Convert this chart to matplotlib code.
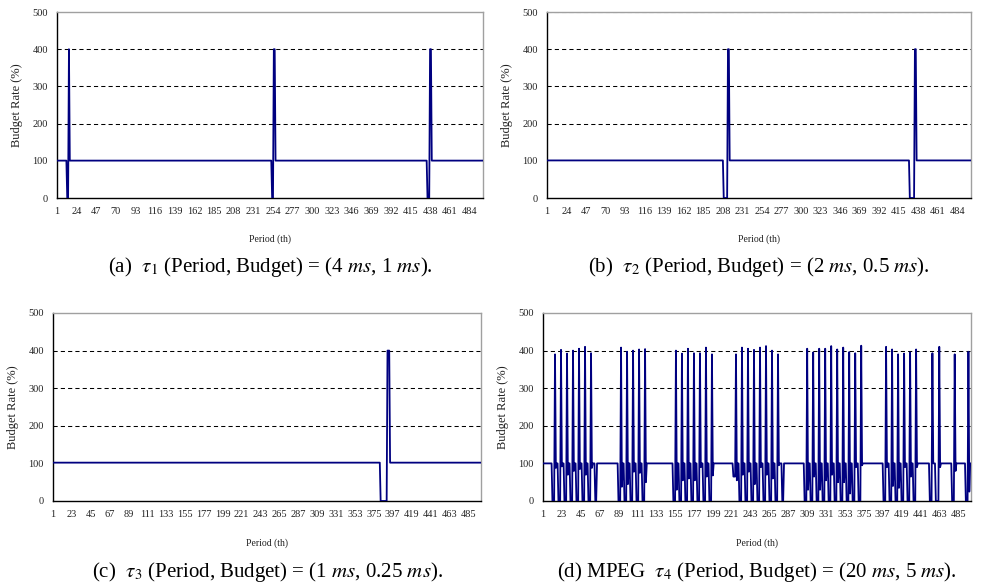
import numpy as np
import matplotlib
matplotlib.use('Agg')
import matplotlib.pyplot as plt

plt.rcParams['font.family'] = ['Liberation Serif', 'DejaVu Serif']
plt.rcParams['mathtext.fontset'] = 'stix'

# period index shared by all four panels
periods = np.arange(1, 501)
ticks_ab = list(range(1, 500, 23))
ticks_cd = list(range(1, 500, 22))
y_ticks = [0, 100, 200, 300, 400, 500]

# (a) tau1: baseline rate, periods at 0 %, periods at 400 %
a_base = 100.5
a_zero_from = [13, 253, 435]
a_zero_to = [14, 254, 437]
a_peak_from = [15, 255, 438]
a_peak_to = [15, 256, 439]
a_peak_val = [400, 400, 400]

# (b) tau2
b_base = 101
b_zero_from = [209, 428]
b_zero_to = [213, 433]
b_peak_from = [214, 434]
b_peak_to = [215, 435]
b_peak_val = [400, 400]

# (c) tau3
c_base = 102
c_zero_from = [383]
c_zero_to = [390]
c_peak_from = [391]
c_peak_to = [393]
c_peak_val = [400]

# (d) MPEG tau4: overrun peaks, value right after each peak, value of the 3 periods before it
d_base = 100
d_peak_at = [15, 22, 29, 36, 43, 50, 57,
             92, 99, 106, 113, 120,
             156, 163, 170, 177, 184, 191, 198,
             226, 233, 240, 247, 254, 261, 268, 275,
             309, 316, 323, 330, 337, 344, 351, 358, 365, 372,
             401, 408, 415, 422, 429, 436,
             455, 463, 481, 497]
d_peak_val = [390, 402, 392, 400, 405, 410, 393,
              408, 397, 400, 403, 404,
              400, 392, 405, 393, 393, 408, 390,
              390, 408, 405, 402, 408, 412, 400, 390,
              405, 395, 405, 405, 412, 403, 408, 396, 393, 413,
              410, 403, 390, 392, 395, 403,
              393, 410, 390, 397]
d_after_val = [88, 92, 70, 80, 85, 70, 88,
               38, 45, 78, 75, 50,
               30, 55, 60, 55, 90, 65, 68,
               55, 70, 78, 45, 90, 70, 60, 95,
               30, 65, 30, 55, 70, 50, 50, 20, 90, 95,
               90, 40, 35, 90, 65, 90,
               100, 90, 80, 25]
d_before_val = [0] * 19 + [65] + [0] * 27
d_tail_zero = [62, 63, 280, 281, 459]


def build_rate(base, zero_from, zero_to, peak_from, peak_to, peak_val):
    rate = np.full(len(periods), float(base))
    for z0, z1, p0, p1, pv in zip(zero_from, zero_to, peak_from, peak_to, peak_val):
        rate[z0 - 1:z1] = 0
        rate[p0 - 1:p1] = pv
    return rate


def build_mpeg_rate():
    rate = np.full(len(periods), float(d_base))
    for p, pv, av, bv in zip(d_peak_at, d_peak_val, d_after_val, d_before_val):
        rate[p - 4:p - 1] = bv
        rate[p - 1] = pv
        if p < len(periods):
            rate[p] = av
    for t in d_tail_zero:
        rate[t - 1] = 0
    return rate


def draw_panel(ax, rate, xticks, grid_levels):
    for g in grid_levels:
        ax.axhline(g, color='black', lw=0.75, ls=(0, (4, 3)), zorder=1)
    ax.plot(periods, rate, color='#000080', lw=1.3, zorder=3)
    ax.set_xlim(1, 500)
    ax.set_ylim(0, 500)
    ax.set_xticks(xticks)
    ax.set_yticks(y_ticks)
    ax.tick_params(length=0, labelsize=7.5, pad=6.5, colors='#222222')
    for side in ['left', 'bottom']:
        ax.spines[side].set_color('black')
        ax.spines[side].set_linewidth(1.0)
    for side in ['top', 'right']:
        ax.spines[side].set_color('#a0a0a0')
        ax.spines[side].set_linewidth(1.0)
    ax.set_ylabel('Budget Rate (%)', fontsize=9, color='#222222')
    ax.yaxis.set_label_coords(-0.08, 0.5)


W, H = 981, 588
fig = plt.figure(figsize=(W / 100, H / 100), dpi=100)

# axes boxes in pixels: left, top, right, bottom
boxes = [(57, 12, 483, 198), (547, 12, 971, 198),
         (53, 313, 481, 501), (543, 313, 971, 501)]
axs = []
for l, t, r, b in boxes:
    axs.append(fig.add_axes([l / W, 1 - b / H, (r - l) / W, (b - t) / H]))

draw_panel(axs[0], build_rate(a_base, a_zero_from, a_zero_to, a_peak_from, a_peak_to, a_peak_val),
           ticks_ab, [200, 300, 400])
draw_panel(axs[1], build_rate(b_base, b_zero_from, b_zero_to, b_peak_from, b_peak_to, b_peak_val),
           ticks_ab, [200, 300, 400, 500])
draw_panel(axs[2], build_rate(c_base, c_zero_from, c_zero_to, c_peak_from, c_peak_to, c_peak_val),
           ticks_cd, [200, 300, 400])
draw_panel(axs[3], build_mpeg_rate(), ticks_cd, [200, 300, 400])

captions = [r'(a)  $\tau_1$ (Period, Budget) = (4 $ms$, 1 $ms$).',
            r'(b)  $\tau_2$ (Period, Budget) = (2 $ms$, 0.5 $ms$).',
            r'(c)  $\tau_3$ (Period, Budget) = (1 $ms$, 0.25 $ms$).',
            r'(d) MPEG  $\tau_4$ (Period, Budget) = (20 $ms$, 5 $ms$).']
xlabel_y = [239, 239, 543, 543]
caption_y = [267, 267, 572, 572]

for (l, t, r, b), cap, ly, cy in zip(boxes, captions, xlabel_y, caption_y):
    cx = (l + r) / 2 / W
    fig.text(cx, 1 - ly / H, 'Period (th)', ha='center', va='center', fontsize=7, color='#222222')
    fig.text(cx, 1 - cy / H, cap, ha='center', va='center', fontsize=15)

fig.savefig('out.png', dpi=100)
